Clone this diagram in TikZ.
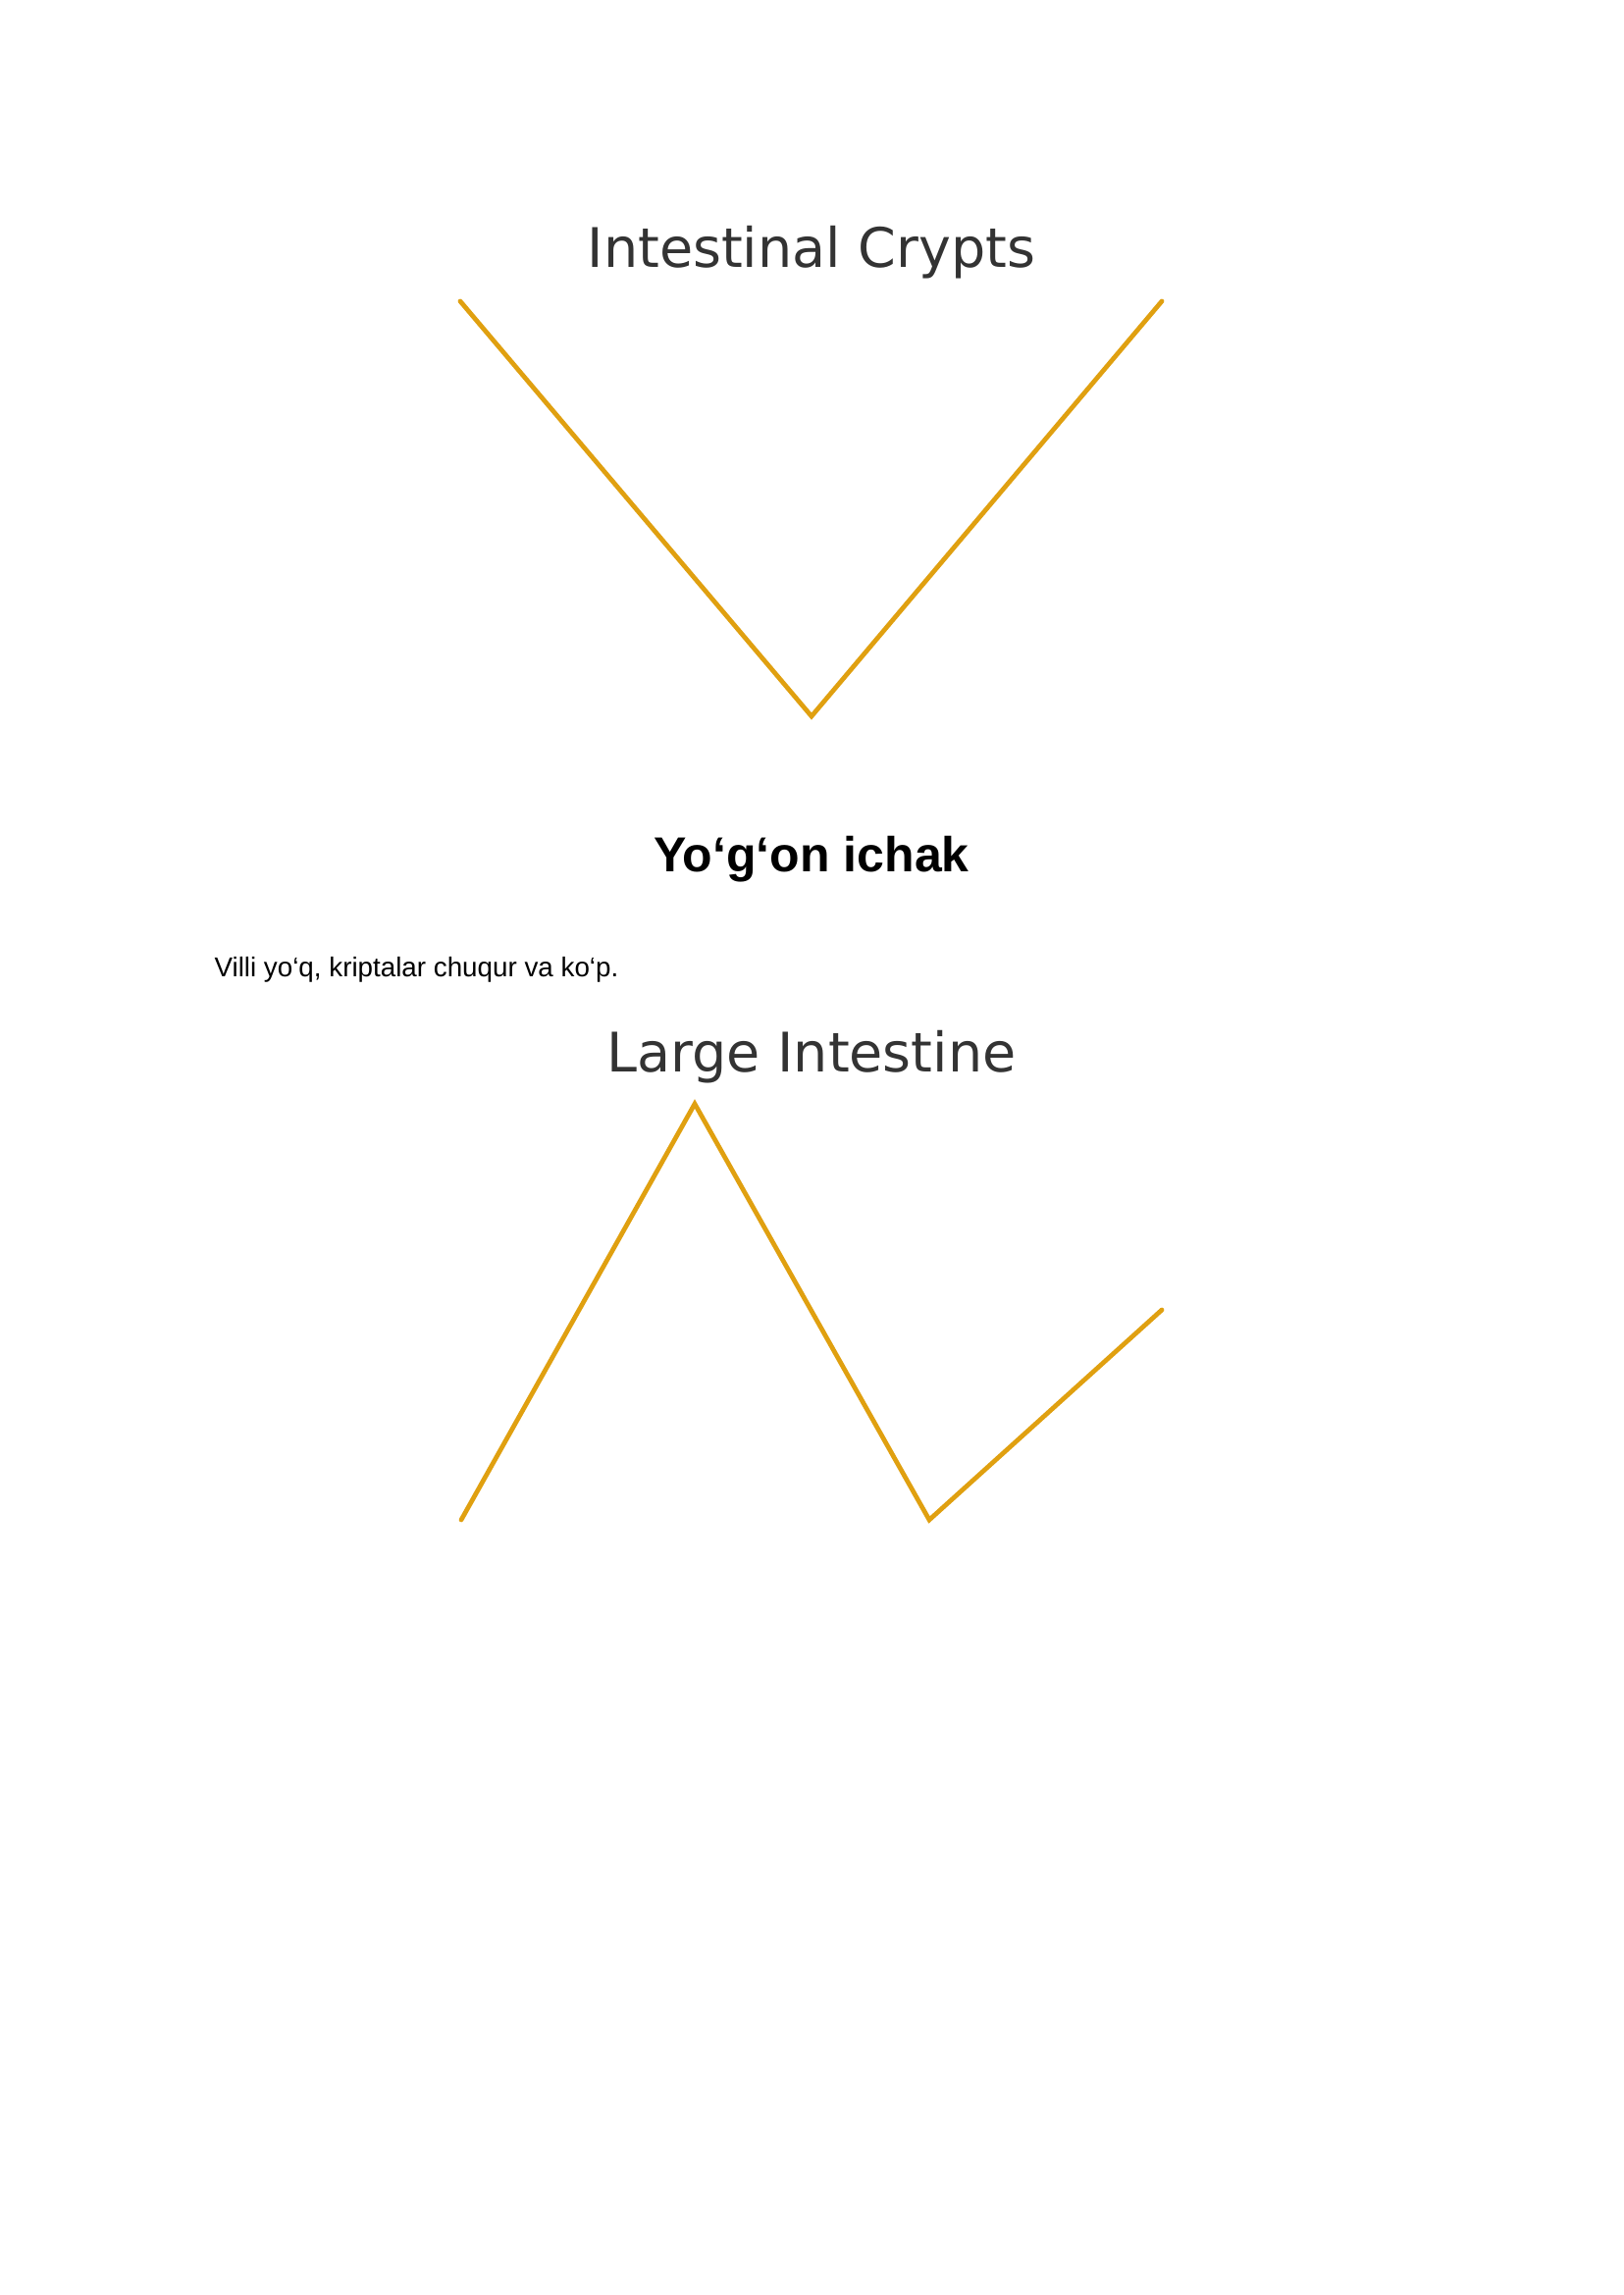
\documentclass[tikz,border=0pt]{standalone}
\usepackage{fontspec}
\setmainfont{Liberation Sans}
\newfontfamily\plotfont{DejaVu Sans}
\definecolor{plotline}{HTML}{E0A010}
\definecolor{plottitle}{HTML}{333333}
\tikzset{
  plottitle/.style={font=\plotfont\fontsize{20}{24}\selectfont, text=plottitle, inner sep=0pt, anchor=base},
  heading/.style={font=\bfseries\fontsize{18}{22}\selectfont, text=black, inner sep=0pt, anchor=base},
  bodytext/.style={font=\fontsize{10}{12}\selectfont, text=black, inner sep=0pt, anchor=base west},
  plotcurve/.style={draw=plotline, line width=1.7pt, line cap=round, line join=miter}
}
\begin{document}
\begin{tikzpicture}[x=0.35991pt, y=-0.35991pt]
  \useasboundingbox[fill=white] (0,0) rectangle (1654,2339);
  % first plot
  \node[plottitle] (t1) at (827,273) {Intestinal Crypts};
  \coordinate (a1) at (469,307);
  \coordinate (a2) at (827,730);
  \coordinate (a3) at (1184,307);
  \draw[plotcurve] (a1) -- (a2) -- (a3);
  % text
  \node[heading] (h) at (827,888) {Yo‘g‘on ichak};
  \node[bodytext] (p) at (218,995) {Villi yo‘q, kriptalar chuqur va ko‘p.};
  % second plot
  \node[plottitle] (t2) at (827,1092) {Large Intestine};
  \coordinate (b1) at (470,1549);
  \coordinate (b2) at (708,1125);
  \coordinate (b3) at (947,1549);
  \coordinate (b4) at (1184,1335);
  \draw[plotcurve] (b1) -- (b2) -- (b3) -- (b4);
\end{tikzpicture}
\end{document}
